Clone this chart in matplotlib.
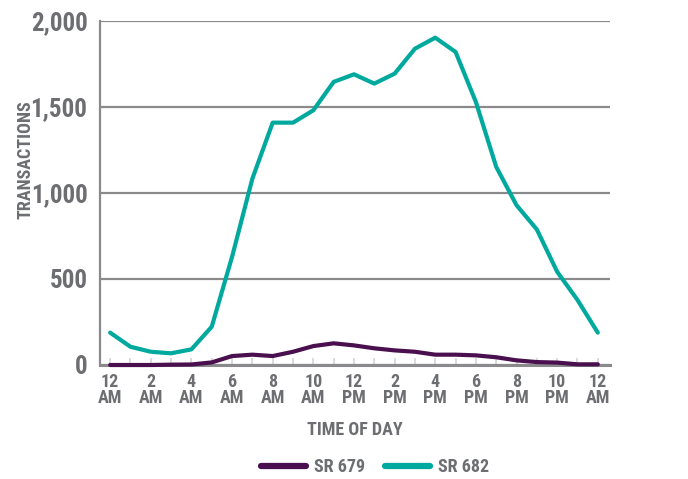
import matplotlib
matplotlib.use("Agg")
import matplotlib.pyplot as plt
from matplotlib import font_manager
from matplotlib.ticker import FuncFormatter, MultipleLocator

# Hourly transaction counts, midnight to midnight
hours = list(range(25))
sr679 = [0, 0, 0, 2, 3, 15, 52, 60, 52, 77, 110, 126, 114, 97, 85, 77,
         60, 60, 56, 45, 27, 17, 14, 4, 4]
sr682 = [188, 106, 77, 68, 91, 223, 629, 1084, 1409, 1409, 1481, 1646,
         1690, 1636, 1694, 1839, 1903, 1820, 1529, 1152, 929, 788, 542,
         378, 188]

tick_hours = list(range(0, 25, 2))
tick_labels = ["12\nAM", "2\nAM", "4\nAM", "6\nAM", "8\nAM", "10\nAM",
               "12\nPM", "2\nPM", "4\nPM", "6\nPM", "8\nPM", "10\nPM",
               "12\nAM"]
y_ticks = [0, 500, 1000, 1500, 2000]

# Prefer a narrow sans face if one is installed
available = {f.name for f in font_manager.fontManager.ttflist}
family = "DejaVu Sans"
stretch = "normal"
for cand in ["Roboto Condensed", "Liberation Sans Narrow", "Open Sans Condensed",
             "DejaVu Sans Condensed"]:
    if cand in available:
        family = cand
        break
else:
    stretch = "condensed"

plt.rcParams["font.family"] = [family, "DejaVu Sans"]
plt.rcParams["font.stretch"] = stretch
plt.rcParams["font.weight"] = "bold"
plt.rcParams["axes.labelweight"] = "bold"

TEXT = "#6d6e71"
GRID = "#8a8a8c"
TEAL = "#00a99d"
PURPLE = "#4a0f4e"

W, H = 688, 479
fig = plt.figure(figsize=(W / 100, H / 100), dpi=100)
ax = fig.add_axes([100 / W, 1 - 365 / H, 510 / W, 344 / H])

ax.set_xlim(-0.5, 24.6)
ax.set_ylim(0, 2000)

ax.grid(axis="y", color=GRID, linewidth=1.6, zorder=0)
ax.set_axisbelow(True)

ax.plot(hours, sr679, color=PURPLE, linewidth=3.0, label="SR 679",
        solid_capstyle="round", zorder=4, clip_on=False)
ax.plot(hours, sr682, color=TEAL, linewidth=3.0, label="SR 682",
        solid_capstyle="round", zorder=3, clip_on=False)

for side in ["top", "right"]:
    ax.spines[side].set_visible(False)
ax.spines["left"].set_color(GRID)
ax.spines["left"].set_linewidth(1.6)
ax.spines["bottom"].set_color(GRID)
ax.spines["bottom"].set_linewidth(2.2)

ax.set_yticks(y_ticks)
ax.yaxis.set_major_formatter(FuncFormatter(lambda v, p: f"{int(v):,}"))
ax.tick_params(axis="y", length=0, pad=9, labelsize=18, labelcolor=TEXT)

ax.set_xticks(tick_hours)
ax.set_xticklabels(tick_labels)
ax.xaxis.set_minor_locator(MultipleLocator(1))
ax.tick_params(axis="x", which="major", direction="in", length=5, width=1.2,
               color="#d4d4d8", labelsize=13, labelcolor=TEXT, pad=6)
ax.tick_params(axis="x", which="minor", direction="in", length=5, width=1.2,
               color="#d4d4d8")
for lbl in ax.get_xticklabels():
    lbl.set_linespacing(0.85)
    lbl.set_fontweight("bold")
for lbl in ax.get_yticklabels():
    lbl.set_fontweight("bold")

ax.set_xlabel("TIME OF DAY", fontsize=13, color=TEXT, fontweight="bold",
              labelpad=10)
ax.set_ylabel("TRANSACTIONS", fontsize=13, color=TEXT, fontweight="bold")
ax.yaxis.set_label_coords(-0.128, 0.596)

leg = fig.legend(loc="center", bbox_to_anchor=(375 / W, 1 - 467 / H), ncol=2,
                 frameon=False, handlelength=2.5,
                 columnspacing=1.1, handletextpad=0.45,
                 prop={"weight": "bold", "size": 13})
for t in leg.get_texts():
    t.set_color(TEXT)
for h in leg.get_lines():
    h.set_linewidth(4.5)

fig.savefig("out.png", dpi=100)
